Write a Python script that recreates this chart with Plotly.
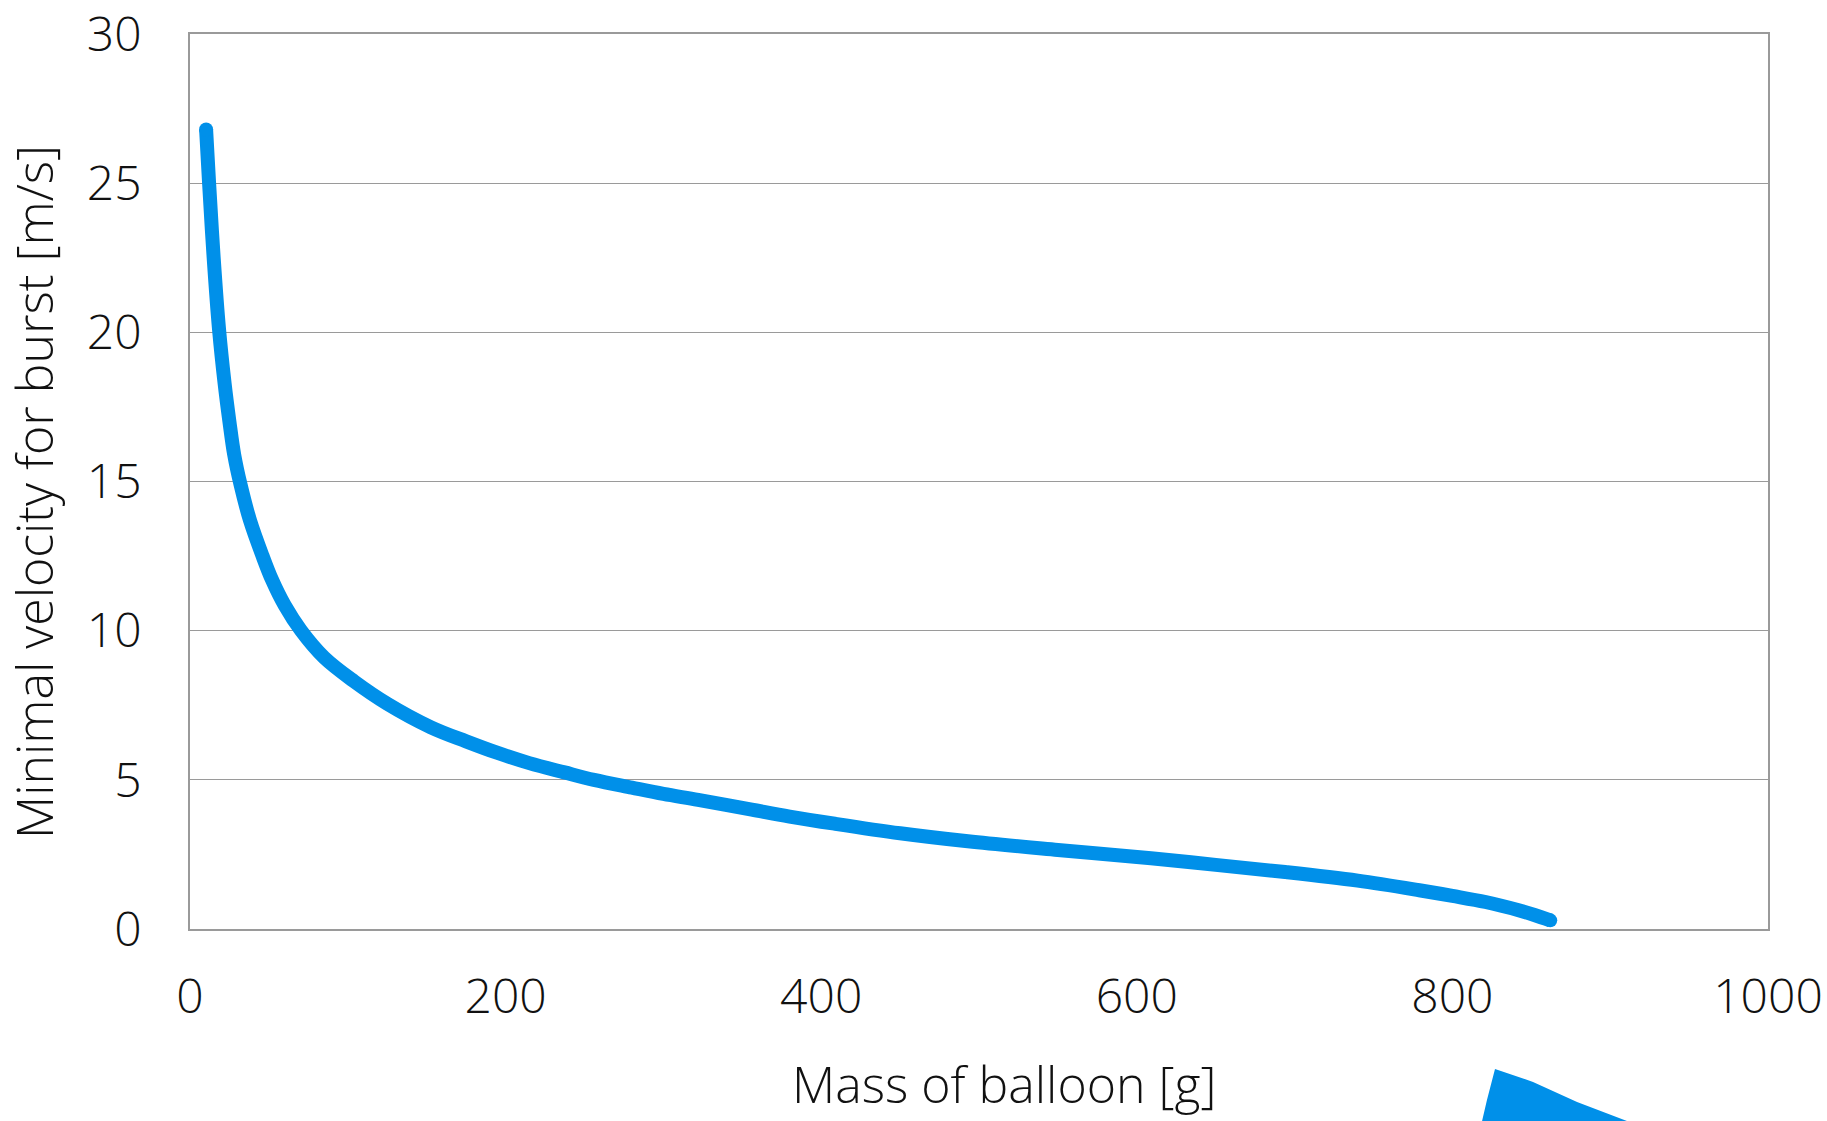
import plotly.graph_objects as go

# Minimal burst velocity as a function of balloon mass
mass_g = [10.2, 12.1, 15, 18.4, 21.9, 25, 28, 32, 38, 46, 52, 60, 70.4, 85,
          104, 125, 152.7, 175, 195, 215, 237.3, 256, 280, 300, 322, 356,
          380, 408.5, 450, 493, 550, 609, 650, 694, 740, 779, 800, 821, 842,
          852, 862]
velocity_ms = [26.8, 25.0, 22.5, 20.1, 18.3, 17.0, 15.9, 14.9, 13.7, 12.5,
               11.7, 10.85, 10.0, 9.1, 8.3, 7.55, 6.76, 6.29, 5.90, 5.56,
               5.25, 5.0, 4.74, 4.53, 4.33, 4.0, 3.77, 3.53, 3.21, 2.94, 2.65,
               2.37, 2.15, 1.91, 1.62, 1.30, 1.11, 0.905, 0.63, 0.47, 0.29]

x_ticks = [0, 200, 400, 600, 800, 1000]
y_ticks = [0, 5, 10, 15, 20, 25, 30]

x_title = "Mass of balloon [g]"
y_title = "Minimal velocity for burst [m/s]"

BLUE = "#0090e9"
FONT = "Open Sans"
WEIGHT = 300
TEXT = "#111111"
GRID = "#9a9a9a"

W, H = 1827, 1121
ML, MR, MT, MB = 190, 59, 34, 192
PW, PH = W - ML - MR, H - MT - MB

fig = go.Figure()

fig.add_trace(go.Scatter(
    x=mass_g, y=velocity_ms, mode="lines",
    line=dict(color=BLUE, width=14, shape="spline", smoothing=1.0),
    hoverinfo="x+y", showlegend=False,
))
# round caps at both ends of the curve
fig.add_trace(go.Scatter(
    x=[mass_g[0], mass_g[-1]], y=[velocity_ms[0], velocity_ms[-1]],
    mode="markers", marker=dict(color=BLUE, size=14, line=dict(width=0)),
    hoverinfo="skip", showlegend=False,
))


def px_to_paper(px, py):
    return (px - ML) / PW, (MT + PH - py) / PH


# blue fragment at the lower right edge
blob = [(1495, 1069), (1533, 1082), (1577, 1102), (1627, 1121),
        (1482, 1121), (1487, 1100)]
pts = [px_to_paper(a, b) for a, b in blob]
path = "M " + " L ".join(f"{a:.4f},{b:.4f}" for a, b in pts) + " Z"
fig.add_shape(type="path", path=path, xref="paper", yref="paper",
              fillcolor=BLUE, line=dict(width=0), layer="above")

tick_font = dict(family=FONT, size=48, color=TEXT, weight=WEIGHT)
title_font = dict(family=FONT, size=50, color=TEXT, weight=WEIGHT)

ax, ay = px_to_paper(1004, 1084)
fig.add_annotation(text=x_title, xref="paper", yref="paper", x=ax, y=ay,
                   showarrow=False, xanchor="center", yanchor="middle",
                   font=title_font)
bx, by = px_to_paper(34, 492)
fig.add_annotation(text=y_title, xref="paper", yref="paper", x=bx, y=by,
                   showarrow=False, textangle=-90, xanchor="center", yanchor="middle",
                   font=title_font)

fig.update_xaxes(
    range=[0, 1000], tickvals=x_ticks, ticktext=[str(v) for v in x_ticks],
    showgrid=False, zeroline=False, automargin=False,
    showline=True, mirror=True, linecolor=GRID, linewidth=1.6,
    ticks="", ticklabelstandoff=25, tickfont=tick_font,
    ticklabeloverflow="allow",
)
fig.update_yaxes(
    range=[0, 30], tickvals=y_ticks, ticktext=[str(v) for v in y_ticks],
    showgrid=True, gridcolor=GRID, gridwidth=1.4, zeroline=False, automargin=False,
    showline=True, mirror=True, linecolor=GRID, linewidth=1.6,
    ticks="", ticklabelstandoff=37, tickfont=tick_font,
    ticklabeloverflow="allow",
)

fig.update_layout(
    width=W, height=H,
    margin=dict(l=ML, r=MR, t=MT, b=MB, pad=0, autoexpand=False),
    paper_bgcolor="white", plot_bgcolor="white",
    showlegend=False,
)

fig.write_html("out.html")
